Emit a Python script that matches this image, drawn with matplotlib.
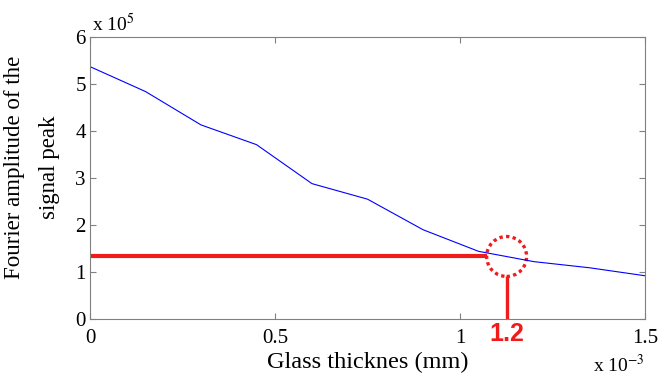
import numpy as np
import matplotlib.pyplot as plt
from matplotlib.patches import Ellipse

# glass thickness (x 10^-3 mm) and Fourier amplitude (x 10^5)
thickness = [0, 0.15, 0.30, 0.45, 0.60, 0.75, 0.90, 1.05, 1.20, 1.35, 1.50]
amplitude = [5.37, 4.84, 4.13, 3.71, 2.88, 2.55, 1.90, 1.44, 1.22, 1.09, 0.92]

# marked reading
mark_x = 1.126
mark_y = 1.33
mark_label = '1.2'

plt.rcParams['font.family'] = ['Liberation Serif', 'DejaVu Serif']
plt.rcParams['mathtext.fontset'] = 'stix'

fig = plt.figure(figsize=(6.64, 3.84), dpi=100)
ax = fig.add_axes([0.1355, 0.1693, 0.8359, 0.7343])

ax.plot(thickness, amplitude, color='#0000ff', lw=0.8)

red = '#f01c1c'
circ_w, circ_h = 0.108, 0.85
ax.plot([0, mark_x - circ_w / 2], [mark_y, mark_y], color=red, lw=3, solid_capstyle='butt')
ax.add_patch(Ellipse((mark_x, mark_y), circ_w, circ_h, fill=False, ec=red,
                     lw=2.4, ls=(0, (1, 1))))
ax.plot([mark_x, mark_x], [0, mark_y - circ_h / 2], color=red, lw=2.4, solid_capstyle='butt')
ax.text(mark_x, -0.07, mark_label, color=red, fontsize=18, fontweight='bold',
        family=['Liberation Sans'], ha='center', va='top')

ax.set_xlim(0, 1.5)
ax.set_ylim(0, 6)
ax.set_xticks([0, 0.5, 1, 1.5])
ax.set_xticklabels(['0', '0.5', '1', '1.5'])
ax.set_yticks(range(7))
ax.tick_params(direction='in', top=True, right=True, labelsize=15,
               length=4, color='#808080', pad=3)
ax.tick_params(axis='x', pad=7)
for s in ax.spines.values():
    s.set_color('#808080')
    s.set_linewidth(0.8)

ax.set_xlabel('Glass thicknes (mm)', fontsize=17.5, labelpad=3)
ax.set_ylabel('Fourier amplitude of the\nsignal peak', fontsize=16.5,
              linespacing=1.9)
ax.yaxis.set_label_coords(-0.054, 0.539)

fig.text(92 / 664, 1 - 31 / 384, r'x 10$^{5}$', fontsize=14, ha='left', va='baseline')
fig.text(645 / 664, 1 - 372 / 384, r'x 10$^{\mathrm{-3}}$', fontsize=14, ha='right', va='baseline')

fig.savefig('out.png', dpi=100)
